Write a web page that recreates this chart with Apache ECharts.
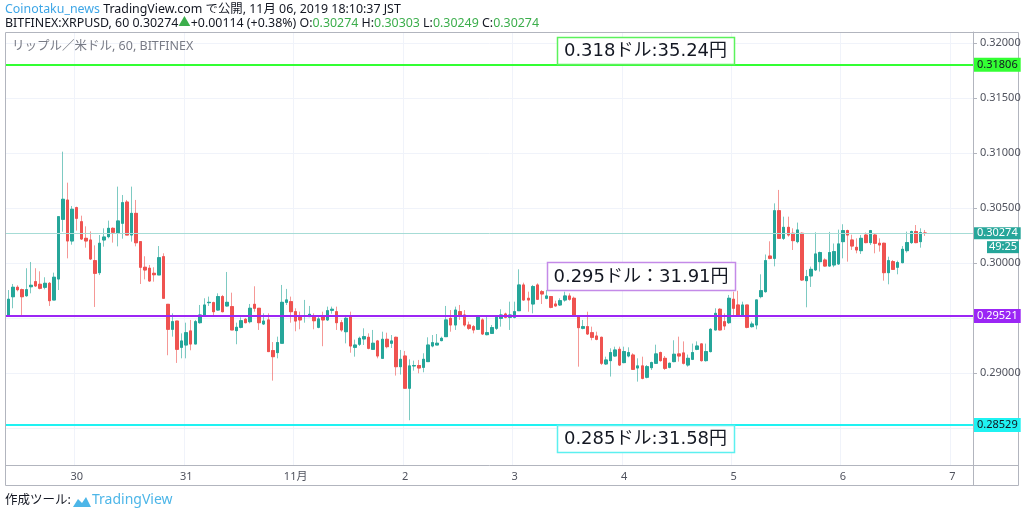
<!DOCTYPE html>
<html>
<head>
<meta charset="utf-8">
<script src="https://cdn.jsdelivr.net/npm/echarts/dist/echarts.min.js"></script>
<style>
  html, body { margin: 0; padding: 0; background: #fff; }
  #chart { width: 1024px; height: 514px; }
</style>
</head>
<body>
<div id="chart"></div>
<script>
// hourly XRPUSD candles, Oct 29 09:00 -> Nov 6 18:00 (JST), rows are [open, close, low, high]
var candles = [
  [0.29521,0.29673,0.29521,0.29757],[0.29696,0.29782,0.29591,0.29812],[0.29782,0.29760,0.29745,0.29800],[0.29760,0.29696,0.29530,0.29770],
  [0.29705,0.29760,0.29696,0.29955],[0.29787,0.29800,0.29727,0.30012],[0.29833,0.29794,0.29785,0.29955],[0.29809,0.29773,0.29763,0.29927],
  [0.29782,0.29818,0.29763,0.29873],[0.29818,0.29660,0.29612,0.29830],[0.29666,0.29873,0.29666,0.29915],[0.29857,0.30424,0.29757,0.30424],
  [0.30400,0.30582,0.30287,0.31015],[0.30575,0.30203,0.30045,0.30733],[0.30203,0.30491,0.30169,0.30521],[0.30506,0.30409,0.30297,0.30515],
  [0.30378,0.30221,0.30212,0.30433],[0.30227,0.30203,0.30142,0.30336],[0.30212,0.30039,0.30030,0.30290],[0.30024,0.29909,0.29603,0.30163],
  [0.29915,0.30182,0.29893,0.30257],[0.30212,0.30239,0.30151,0.30318],[0.30242,0.30318,0.30227,0.30388],[0.30318,0.30282,0.30188,0.30327],
  [0.30278,0.30385,0.30154,0.30697],[0.30364,0.30551,0.30224,0.30621],[0.30557,0.30257,0.30257,0.30576],[0.30257,0.30454,0.30197,0.30697],
  [0.30454,0.30187,0.30154,0.30576],[0.30197,0.29964,0.29812,0.30197],[0.29964,0.29939,0.29854,0.30064],[0.29955,0.29839,0.29833,0.29985],
  [0.29909,0.29896,0.29833,0.29964],[0.29894,0.30051,0.29894,0.30157],[0.30060,0.29682,0.29682,0.30091],[0.29627,0.29400,0.29164,0.29627],
  [0.29400,0.29469,0.29333,0.29545],[0.29475,0.29218,0.29094,0.29475],[0.29236,0.29294,0.29136,0.29363],[0.29257,0.29369,0.29136,0.29460],
  [0.29385,0.29266,0.29209,0.29485],[0.29266,0.29469,0.29266,0.29485],[0.29460,0.29530,0.29451,0.29621],[0.29530,0.29621,0.29515,0.29682],
  [0.29642,0.29645,0.29612,0.29697],[0.29642,0.29560,0.29515,0.29651],[0.29575,0.29697,0.29569,0.29727],[0.29697,0.29560,0.29554,0.29712],
  [0.29612,0.29645,0.29606,0.29921],[0.29606,0.29394,0.29394,0.29733],[0.29388,0.29418,0.29264,0.29460],[0.29418,0.29478,0.29409,0.29509],
  [0.29491,0.29460,0.29454,0.29503],[0.29469,0.29591,0.29454,0.29630],[0.29627,0.29591,0.29560,0.29791],[0.29591,0.29460,0.29394,0.29591],
  [0.29448,0.29475,0.29439,0.29545],[0.29485,0.29197,0.29197,0.29545],[0.29206,0.29151,0.28933,0.29284],[0.29188,0.29279,0.29136,0.29333],
  [0.29273,0.29645,0.29273,0.29803],[0.29645,0.29667,0.29621,0.29767],[0.29651,0.29560,0.29460,0.29697],[0.29560,0.29475,0.29382,0.29591],
  [0.29521,0.29485,0.29400,0.29560],[0.29521,0.29524,0.29460,0.29667],[0.29515,0.29536,0.29515,0.29612],[0.29521,0.29478,0.29400,0.29545],
  [0.29418,0.29494,0.29409,0.29521],[0.29521,0.29485,0.29246,0.29560],[0.29485,0.29569,0.29475,0.29606],[0.29573,0.29582,0.29542,0.29606],
  [0.29560,0.29460,0.29394,0.29606],[0.29460,0.29394,0.29378,0.29485],[0.29378,0.29500,0.29272,0.29530],[0.29521,0.29248,0.29187,0.29560],
  [0.29236,0.29257,0.29151,0.29306],[0.29264,0.29318,0.29248,0.29333],[0.29312,0.29333,0.29257,0.29409],[0.29327,0.29227,0.29218,0.29363],
  [0.29218,0.29273,0.29212,0.29394],[0.29294,0.29157,0.29136,0.29303],[0.29136,0.29309,0.29136,0.29378],[0.29309,0.29242,0.29227,0.29369],
  [0.29273,0.29294,0.29230,0.29348],[0.29327,0.29060,0.28979,0.29333],[0.29060,0.29127,0.28988,0.29212],[0.29157,0.28864,0.28864,0.29203],
  [0.28864,0.29067,0.28573,0.29127],[0.29067,0.29070,0.29024,0.29115],[0.29070,0.29048,0.29000,0.29121],[0.29054,0.29127,0.29009,0.29182],
  [0.29106,0.29257,0.29106,0.29327],[0.29248,0.29278,0.29236,0.29348],[0.29257,0.29273,0.29257,0.29357],[0.29297,0.29318,0.29291,0.29333],
  [0.29333,0.29485,0.29333,0.29612],[0.29500,0.29439,0.29378,0.29575],[0.29439,0.29575,0.29394,0.29606],[0.29560,0.29530,0.29485,0.29621],
  [0.29530,0.29439,0.29424,0.29575],[0.29439,0.29409,0.29394,0.29470],[0.29424,0.29394,0.29363,0.29439],[0.29400,0.29521,0.29394,0.29530],
  [0.29485,0.29357,0.29348,0.29500],[0.29351,0.29369,0.29345,0.29515],[0.29363,0.29415,0.29357,0.29439],[0.29409,0.29509,0.29394,0.29521],
  [0.29500,0.29530,0.29424,0.29582],[0.29539,0.29509,0.29500,0.29551],[0.29509,0.29530,0.29394,0.29651],[0.29509,0.29560,0.29500,0.29651],
  [0.29569,0.29803,0.29569,0.29945],[0.29803,0.29666,0.29660,0.29824],[0.29682,0.29666,0.29560,0.29742],[0.29630,0.29788,0.29545,0.29803],
  [0.29803,0.29673,0.29666,0.29818],[0.29742,0.29721,0.29630,0.29757],[0.29682,0.29703,0.29673,0.29757],[0.29697,0.29600,0.29591,0.29703],
  [0.29630,0.29612,0.29606,0.29660],[0.29621,0.29660,0.29612,0.29682],[0.29666,0.29703,0.29651,0.29742],[0.29703,0.29673,0.29660,0.29727],
  [0.29682,0.29521,0.29515,0.29697],[0.29509,0.29415,0.29060,0.29521],[0.29409,0.29424,0.29400,0.29485],[0.29424,0.29357,0.29348,0.29560],
  [0.29369,0.29327,0.29300,0.29424],[0.29339,0.29309,0.29300,0.29378],[0.29327,0.29091,0.29075,0.29333],[0.29085,0.29121,0.29075,0.29151],
  [0.29115,0.29188,0.28970,0.29227],[0.29157,0.29212,0.29151,0.29242],[0.29218,0.29075,0.29066,0.29242],[0.29097,0.29197,0.29091,0.29242],
  [0.29157,0.29188,0.29145,0.29236],[0.29166,0.29036,0.29030,0.29182],[0.29048,0.29067,0.28924,0.29136],[0.29067,0.28954,0.28945,0.29151],
  [0.28964,0.29060,0.28954,0.29075],[0.29051,0.29097,0.29030,0.29106],[0.29091,0.29176,0.29085,0.29260],[0.29188,0.29115,0.29106,0.29197],
  [0.29136,0.29045,0.29030,0.29157],[0.29054,0.29091,0.29045,0.29097],[0.29106,0.29173,0.29100,0.29300],[0.29176,0.29157,0.29106,0.29333],
  [0.29185,0.29091,0.29080,0.29290],[0.29075,0.29136,0.29060,0.29170],[0.29127,0.29188,0.29120,0.29270],[0.29218,0.29248,0.29210,0.29290],
  [0.29267,0.29115,0.29106,0.29272],[0.29115,0.29197,0.29106,0.29270],[0.29197,0.29400,0.29190,0.29410],[0.29394,0.29545,0.29390,0.29591],
  [0.29582,0.29394,0.29390,0.29591],[0.29469,0.29430,0.29394,0.29545],[0.29460,0.29682,0.29448,0.29712],[0.29673,0.29591,0.29530,0.29742],
  [0.29621,0.29530,0.29521,0.29750],[0.29530,0.29621,0.29521,0.29651],[0.29621,0.29418,0.29409,0.29621],[0.29424,0.29448,0.29415,0.29470],
  [0.29439,0.29667,0.29400,0.29667],[0.29697,0.29751,0.29682,0.29900],[0.29742,0.30024,0.29733,0.30080],[0.30066,0.30045,0.30036,0.30200],
  [0.30045,0.30478,0.29972,0.30545],[0.30478,0.30227,0.30227,0.30667],[0.30227,0.30327,0.30212,0.30424],[0.30327,0.30257,0.30242,0.30424],
  [0.30273,0.30206,0.30121,0.30318],[0.30197,0.30303,0.30182,0.30370],[0.30273,0.29848,0.29840,0.30280],[0.29842,0.29879,0.29600,0.29940],
  [0.29885,0.29945,0.29785,0.29970],[0.29940,0.30085,0.29930,0.30282],[0.30015,0.30097,0.29925,0.30106],[0.30030,0.29975,0.29970,0.30045],
  [0.29975,0.30097,0.29970,0.30285],[0.29985,0.30106,0.29965,0.30180],[0.29994,0.30176,0.29985,0.30306],[0.30197,0.30297,0.30045,0.30355],
  [0.30297,0.30257,0.30015,0.30306],[0.30212,0.30157,0.30121,0.30260],[0.30145,0.30121,0.30091,0.30227],[0.30115,0.30227,0.30085,0.30257],
  [0.30257,0.30188,0.30182,0.30280],[0.30188,0.30297,0.30167,0.30303],[0.30257,0.30182,0.30091,0.30273],[0.30182,0.30167,0.30106,0.30227],
  [0.30182,0.29915,0.29842,0.30188],[0.29915,0.30024,0.29809,0.30060],[0.30015,0.29945,0.29940,0.30030],[0.29964,0.30006,0.29900,0.30024],
  [0.30006,0.30127,0.30000,0.30157],[0.30115,0.30188,0.30097,0.30288],[0.30188,0.30288,0.30176,0.30297],[0.30288,0.30188,0.30182,0.30348],
  [0.30197,0.30278,0.30142,0.30318],[0.30274,0.30274,0.30249,0.30303]
];

var levels = [0.31806, 0.29521, 0.28529];
var levelNotes = ['0.318ドル:35.24円', '0.295ドル：31.91円', '0.285ドル:31.58円'];
var lastPrice = 0.30274;
var countdown = '49:25';
var slotCount = 212;      // candles plus empty hours to the right
var priceMin = 0.28166, priceMax = 0.32103;

var green = '#26a69a', red = '#ef5350';
var levelColors = ['#33ff33', '#9b26f5', '#1ff2f2'];
var levelText = ['#131722', '#ffffff', '#131722'];
var noteBorders = ['#5cf25c', '#c48ae8', '#5cf0f0'];
var font = '"Noto Sans", "Noto Sans CJK JP", sans-serif';

// hour slots as category labels
var startUTC = Date.UTC(2019, 9, 29, 9);
var times = [];
for (var i = 0; i < slotCount; i++) {
  var d = new Date(startUTC + i * 3600000);
  times.push((d.getUTCMonth() + 1) + '/' + d.getUTCDate() + ' ' + d.getUTCHours());
}
function isMidnight(idx, v) { return / 0$/.test(times[idx]); }

var bodies = candles.map(function (c) {
  return [c[0], c[1], Math.min(c[0], c[1]), Math.max(c[0], c[1])];
});

var levelLines = levels.map(function (v, i) {
  return {
    yAxis: v,
    lineStyle: { color: levelColors[i], width: 2, type: 'solid' },
    label: { backgroundColor: levelColors[i], color: levelText[i], padding: [1, 3] }
  };
});
levelLines.push({
  yAxis: lastPrice,
  lineStyle: { color: '#a6dcd6', width: 1, type: 'solid' },
  label: { backgroundColor: green, color: '#fff', padding: [0, 3] }
});

var chartDom = document.getElementById('chart');
var myChart = echarts.init(chartDom);
var option;

option = {
  animation: false,
  textStyle: { fontFamily: font },
  grid: { left: 6, right: 51, top: 32, bottom: 49 },
  xAxis: {
    type: 'category',
    data: times,
    boundaryGap: true,
    axisLine: { lineStyle: { color: '#b2b5be' } },
    axisTick: { interval: isMidnight, length: 3, alignWithLabel: true, lineStyle: { color: '#b2b5be' } },
    axisLabel: {
      interval: isMidnight,
      color: '#50535e',
      fontSize: 11,
      margin: 6,
      formatter: function (v) {
        var p = v.split(/[\/ ]/);
        return p[1] === '1' ? p[0] + '月' : p[1];
      }
    },
    splitLine: { show: true, interval: isMidnight, lineStyle: { color: '#f0f3fa' } }
  },
  yAxis: {
    type: 'value',
    position: 'right',
    min: priceMin,
    max: priceMax,
    splitNumber: 8,
    axisLine: { show: true, lineStyle: { color: '#b2b5be' } },
    axisTick: { show: true, length: 4, lineStyle: { color: '#b2b5be' } },
    axisLabel: {
      showMinLabel: false,
      showMaxLabel: false,
      color: '#50535e',
      fontSize: 11,
      margin: 7,
      formatter: function (v) {
        for (var i = 0; i < levels.length; i++) {
          if (Math.abs(v - levels[i]) < 0.0006) return '';
        }
        return v.toFixed(5);
      }
    },
    splitLine: { lineStyle: { color: '#f0f3fa' } }
  },
  series: [
    {
      name: 'wick',
      type: 'candlestick',
      data: candles,
      barWidth: 3,
      itemStyle: {
        color: 'rgba(38,166,154,0.6)', color0: 'rgba(239,83,80,0.6)',
        borderColor: 'rgba(38,166,154,0.6)', borderColor0: 'rgba(239,83,80,0.6)',
        borderWidth: 1
      }
    },
    {
      name: 'body',
      type: 'candlestick',
      data: bodies,
      barWidth: 3,
      itemStyle: {
        color: green, color0: red, borderColor: green, borderColor0: red, borderWidth: 1
      },
      markLine: {
        silent: true,
        symbol: 'none',
        precision: 5,
        label: {
          show: true,
          position: 'end',
          distance: 1,
          fontSize: 11,
          lineHeight: 12,
          formatter: function (p) { return Number(p.value).toFixed(5); }
        },
        data: levelLines
      }
    }
  ]
};

option && myChart.setOption(option);

// header, notes, footer
var lastY = myChart.convertToPixel({ yAxisIndex: 0 }, lastPrice);
var noteBoxes = [
  { x: 557, y: 37, w: 177, h: 27 },
  { x: 547, y: 262, w: 188, h: 28 },
  { x: 557, y: 425, w: 177, h: 27 }
];
var hdr = '12.4px ' + font;
var graphics = [
  { type: 'rect', shape: { x: 5.5, y: 32.5, width: 1013, height: 453 }, style: { fill: 'none', stroke: '#b2b5be', lineWidth: 1 }, z: 0 },
  { type: 'line', shape: { x1: 973, y1: 465.5, x2: 1019, y2: 465.5 }, style: { stroke: '#b2b5be', lineWidth: 1 } },
  { type: 'line', shape: { x1: 973.5, y1: 465, x2: 973.5, y2: 486 }, style: { stroke: '#b2b5be', lineWidth: 1 } },
  {
    type: 'text', left: 5, top: 3,
    style: {
      text: '{u|Coinotaku_news} {d|TradingView.com で公開, 11月 06, 2019 18:10:37 JST}',
      font: hdr,
      rich: { u: { fill: '#3ea6e6', font: hdr }, d: { fill: '#131722', font: hdr } }
    }
  },
  {
    type: 'text', left: 5, top: 17,
    style: {
      text: '{d|BITFINEX:XRPUSD, 60 0.30274}{g|▲}{d|+0.00114 (+0.38%) O:}{g|0.30274}{d| H:}{g|0.30303}{d| L:}{g|0.30249}{d| C:}{g|0.30274}',
      font: hdr,
      rich: { d: { fill: '#131722', font: hdr }, g: { fill: '#3cae4c', font: hdr } }
    }
  },
  { type: 'text', left: 12, top: 40, style: { text: 'リップル／米ドル, 60, BITFINEX', fill: '#787b86', font: '12.5px ' + font } },
  { type: 'rect', shape: { x: 987, y: lastY + 8, width: 32, height: 12 }, style: { fill: green } },
  { type: 'text', x: 1003, y: lastY + 14, style: { text: countdown, fill: '#fff', font: '11px ' + font, align: 'center', verticalAlign: 'middle' } },
  { type: 'text', left: 5, top: 494, style: { text: '作成ツール:', fill: '#131722', font: '12.5px ' + font } },
  { type: 'polygon', shape: { points: [[73, 507], [78, 499], [82, 503], [86, 497], [91, 507]] }, style: { fill: '#4db6e8' } },
  { type: 'text', left: 92, top: 493, style: { text: 'TradingView', fill: '#4db6e8', font: '14px ' + font } }
];
noteBoxes.forEach(function (b, i) {
  graphics.push({ type: 'rect', shape: { x: b.x + 0.5, y: b.y + 0.5, width: b.w, height: b.h }, style: { fill: '#fff', stroke: noteBorders[i], lineWidth: 1.5 }, z: 10 });
  graphics.push({ type: 'text', x: b.x + b.w / 2, y: b.y + b.h / 2 + 1, style: { text: levelNotes[i], fill: '#131722', font: '18px "DejaVu Sans", "Noto Sans CJK JP", sans-serif', align: 'center', verticalAlign: 'middle' }, z: 11 });
});
myChart.setOption({ graphic: graphics });
</script>
</body>
</html>
